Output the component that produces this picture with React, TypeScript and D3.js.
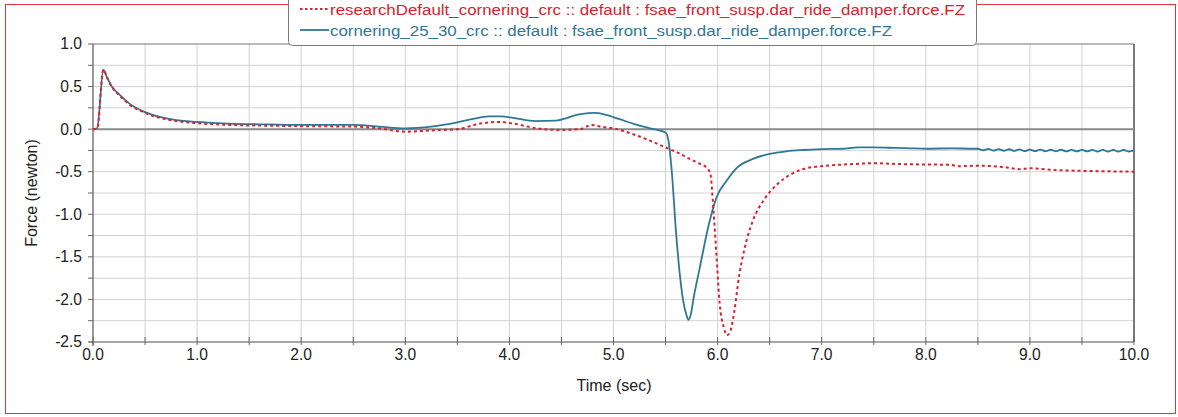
import React from "react";
import * as d3 from "d3";

const W = 1178;
const H = 417;

const seriesNames = [
  "researchDefault_cornering_crc :: default : fsae_front_susp.dar_ride_damper.force.FZ",
  "cornering_25_30_crc :: default : fsae_front_susp.dar_ride_damper.force.FZ",
];

const xTickLabels = ["0.0", "1.0", "2.0", "3.0", "4.0", "5.0", "6.0", "7.0", "8.0", "9.0", "10.0"];
const yTickLabels = ["1.0", "0.5", "0.0", "-0.5", "-1.0", "-1.5", "-2.0", "-2.5"];

// researchDefault_cornering_crc (red dotted)
const redT = [
  0, 0.04, 0.1, 0.13, 0.18, 0.25, 0.35, 0.5, 0.65, 0.8, 1.0, 1.3, 1.7, 2.0, 2.5, 2.75, 3.0, 3.25, 3.5,
  3.72, 3.9, 4.04, 4.26, 4.49, 4.68, 4.79, 4.87, 5.0, 5.19, 5.32, 5.51, 5.64, 5.7, 5.8, 5.9, 5.93, 5.96,
  5.99, 6.02, 6.06, 6.09, 6.12, 6.15, 6.21, 6.28, 6.34, 6.44, 6.57, 6.72, 6.85, 7.05, 7.3, 7.5, 7.75,
  8.0, 8.25, 8.3, 8.5, 8.75, 8.9, 9.0, 9.25, 9.5, 9.75, 10.0,
];
const redV = [
  0, 0.01, 0.7, 0.62, 0.5, 0.4, 0.29, 0.19, 0.13, 0.095, 0.07, 0.05, 0.04, 0.035, 0.03, 0.01, -0.03,
  -0.015, 0.0, 0.065, 0.085, 0.065, 0.01, -0.01, 0.0, 0.05, 0.03, 0.01, -0.06, -0.12, -0.22, -0.29,
  -0.33, -0.39, -0.46, -0.52, -0.95, -1.5, -2.05, -2.33, -2.42, -2.38, -2.22, -1.7, -1.3, -1.07, -0.84,
  -0.65, -0.52, -0.46, -0.43, -0.41, -0.4, -0.41, -0.415, -0.42, -0.435, -0.43, -0.445, -0.47, -0.46,
  -0.48, -0.49, -0.495, -0.5,
];

// cornering_25_30_crc (blue solid)
const blueT = [
  0, 0.04, 0.1, 0.13, 0.18, 0.25, 0.35, 0.5, 0.65, 0.8, 1.0, 1.3, 1.7, 2.0, 2.5, 2.75, 3.0, 3.25, 3.5,
  3.65, 3.8, 3.92, 4.05, 4.25, 4.45, 4.55, 4.62, 4.7, 4.82, 4.92, 5.05, 5.2, 5.35, 5.5, 5.53, 5.56, 5.6,
  5.64, 5.67, 5.7, 5.72, 5.74, 5.77, 5.83, 5.91, 5.99, 6.09, 6.18, 6.34, 6.5, 6.66, 6.82, 7.0, 7.2,
  7.35, 7.5, 7.7, 7.85, 8.0, 8.25, 8.45, 8.5, 8.55, 8.6, 8.65, 8.7, 8.75, 8.8, 8.85, 8.9, 8.95, 9.0,
  9.05, 9.1, 9.15, 9.2, 9.25, 9.3, 9.35, 9.4, 9.45, 9.5, 9.55, 9.6, 9.65, 9.7, 9.75, 9.8, 9.85, 9.9,
  9.95, 10.0,
];
const blueV = [
  0, 0.01, 0.7, 0.62, 0.5, 0.41, 0.3, 0.2, 0.14, 0.105, 0.085, 0.065, 0.055, 0.05, 0.05, 0.03, 0.01,
  0.03, 0.08, 0.12, 0.15, 0.15, 0.13, 0.095, 0.1, 0.13, 0.16, 0.18, 0.19, 0.17, 0.12, 0.06, 0.01, -0.04,
  -0.15, -0.5, -1.2, -1.74, -2.02, -2.18, -2.24, -2.19, -1.98, -1.62, -1.15, -0.8, -0.6, -0.46, -0.35,
  -0.29, -0.26, -0.245, -0.235, -0.23, -0.215, -0.215, -0.22, -0.225, -0.23, -0.225, -0.23, -0.23,
  -0.248, -0.232, -0.252, -0.234, -0.254, -0.236, -0.256, -0.238, -0.258, -0.24, -0.258, -0.24, -0.26,
  -0.242, -0.26, -0.242, -0.262, -0.243, -0.262, -0.243, -0.262, -0.244, -0.263, -0.244, -0.263, -0.245,
  -0.263, -0.245, -0.263, -0.25,
];

const RED = "#d8222e";
const BLUE = "#2f7796";

export default function App() {
  const left = 93;
  const right = 1134;
  const top = 44;
  const bottom = 342;

  const x = d3.scaleLinear().domain([0, 10]).range([left, right]);
  const y = d3.scaleLinear().domain([-2.5, 1.0]).range([bottom, top]);

  const line = d3
    .line<[number, number]>()
    .x((d) => x(d[0]))
    .y((d) => y(d[1]))
    .curve(d3.curveMonotoneX);

  const redData: [number, number][] = redT.map((t, i) => [t, redV[i]]);
  const blueData: [number, number][] = blueT.map((t, i) => [t, blueV[i]]);

  const xGrid = d3.range(0, 10.001, 0.5);
  const yGrid = d3.range(-2.5, 1.001, 0.25);
  const xMajor = xTickLabels.map((s) => parseFloat(s));
  const yMajor = yTickLabels.map((s) => parseFloat(s));

  const font = "'Liberation Sans', Arial, sans-serif";

  return (
    <svg
      width={W}
      height={H}
      style={{ position: "fixed", left: 0, top: 0, background: "#fff" }}
      fontFamily={font}
    >
      <rect x={0} y={0} width={W} height={H} fill="#fff" />
      <rect x={5.5} y={4.5} width={1170} height={409} fill="none" stroke="#d9363e" strokeWidth={1} />

      {/* grid */}
      {xGrid.map((t) => (
        <line key={"gx" + t} x1={x(t)} x2={x(t)} y1={top} y2={bottom} stroke="#d2d2d2" strokeWidth={1} />
      ))}
      {yGrid.map((v) => (
        <line key={"gy" + v} x1={left} x2={right} y1={y(v)} y2={y(v)} stroke="#d2d2d2" strokeWidth={1} />
      ))}

      {/* frame */}
      <line x1={left} x2={right} y1={top} y2={top} stroke="#8a8a8a" strokeWidth={1.2} />
      <line x1={right} x2={right} y1={top} y2={bottom} stroke="#555" strokeWidth={1.5} />
      <line x1={left} x2={right} y1={y(0)} y2={y(0)} stroke="#8c8c8c" strokeWidth={2} />
      <line x1={left} x2={left} y1={top} y2={bottom + 4} stroke="#666" strokeWidth={1.2} />
      <line x1={left - 4} x2={right} y1={bottom} y2={bottom} stroke="#666" strokeWidth={1.2} />

      {/* ticks */}
      {yGrid.map((v) => (
        <line key={"ty" + v} x1={left - 5} x2={left} y1={y(v)} y2={y(v)} stroke="#666" strokeWidth={1} />
      ))}
      {xGrid.map((t) => (
        <line key={"tx" + t} x1={x(t)} x2={x(t)} y1={bottom - 5} y2={bottom + 3} stroke="#666" strokeWidth={1} />
      ))}

      {yMajor.map((v, i) => (
        <text
          key={"ly" + i}
          x={left - 11}
          y={y(v)}
          dy="0.35em"
          textAnchor="end"
          fontSize={15.6}
          fill="#222"
        >
          {yTickLabels[i]}
        </text>
      ))}
      {xMajor.map((t, i) => (
        <text key={"lx" + i} x={x(t)} y={360} textAnchor="middle" fontSize={15.6} fill="#222">
          {xTickLabels[i]}
        </text>
      ))}

      <text x={614} y={391} textAnchor="middle" fontSize={16} fill="#222">
        Time (sec)
      </text>
      <text transform={`translate(37,193) rotate(-90)`} textAnchor="middle" fontSize={16} fill="#222">
        Force (newton)
      </text>

      {/* series */}
      <path d={line(blueData) || ""} fill="none" stroke={BLUE} strokeWidth={1.8} />
      <path d={line(redData) || ""} fill="none" stroke={RED} strokeWidth={2} strokeDasharray="3,3" />

      {/* legend */}
      <rect x={288.5} y={-5} width={688} height={50.5} rx={4} fill="#fff" stroke="#7a7a7a" strokeWidth={1} />
      <line x1={300} x2={329} y1={9} y2={9} stroke={RED} strokeWidth={2} strokeDasharray="2.5,2.5" />
      <text x={330} y={14.5} fontSize={15.5} fill={RED} textLength={635} lengthAdjust="spacingAndGlyphs">
        {seriesNames[0]}
      </text>
      <line x1={300} x2={329} y1={30} y2={30} stroke={BLUE} strokeWidth={1.8} />
      <text x={330} y={35.5} fontSize={15.5} fill={BLUE} textLength={562} lengthAdjust="spacingAndGlyphs">
        {seriesNames[1]}
      </text>
    </svg>
  );
}
